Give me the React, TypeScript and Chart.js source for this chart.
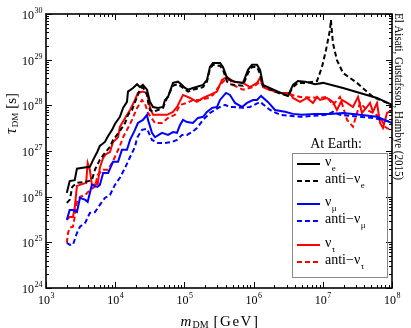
import React, { useEffect, useRef } from "react";
import { Chart, registerables } from "chart.js";

Chart.register(...registerables);

// ---- data (m_DM in GeV, tau_DM in s) ----
const massNuE = [2.0e3, 2.2e3, 2.6e3, 2.8e3, 3.4e3, 4.3e3, 4.8e3, 5.5e3, 6.0e3, 7.1e3, 7.9e3, 9.0e3, 9.9e3, 1.17e4, 1.30e4, 1.48e4, 1.53e4, 1.81e4, 2.07e4, 2.28e4, 2.52e4, 2.88e4, 3.18e4, 3.52e4, 4.15e4, 4.91e4, 5.24e4, 5.8e4, 6.84e4, 8.09e4, 9.23e4, 1.02e5, 1.13e5, 1.33e5, 1.86e5, 2.12e5, 2.34e5, 2.59e5, 3.27e5, 3.61e5, 4.13e5, 4.56e5, 5.39e5, 7.03e5, 8.30e5, 9.48e5, 1.12e6, 1.24e6, 1.37e6, 1.61e6, 2.25e6, 3.14e6, 3.71e6, 4.38e6, 5.53e6, 7.72e6, 1.01e7, 1.96e7, 3.45e7, 6.07e7, 1e8];
const tauNuE = [1.21e26, 2.2e26, 2.3e26, 4.1e26, 4.3e26, 4.5e26, 6.4e26, 9.5e26, 1.29e27, 1.58e27, 2.14e27, 2.9e27, 3.9e27, 5.6e27, 8.8e27, 1.19e28, 2.0e28, 2.4e28, 2.9e28, 2.5e28, 2.8e28, 2.2e28, 1.19e28, 9.2e27, 8.8e27, 9.2e27, 1.31e28, 1.53e28, 3.1e28, 3.3e28, 2.8e28, 2.4e28, 2.2e28, 2.4e28, 2.8e28, 3.6e28, 6.9e28, 8.5e28, 8.5e28, 6.9e28, 4.0e28, 3.6e28, 3.3e28, 3.1e28, 6.0e28, 7.7e28, 7.7e28, 6.0e28, 2.8e28, 2.5e28, 2.0e28, 1.61e28, 2.8e28, 3.4e28, 3.3e28, 2.9e28, 3.1e28, 2.4e28, 1.87e28, 1.45e28, 1.02e28];

const massAntiNuE = [2.0e3, 2.2e3, 2.4e3, 2.8e3, 3.7e3, 4.6e3, 5.1e3, 6.0e3, 7.1e3, 8.4e3, 9.3e3, 1.06e4, 1.25e4, 1.39e4, 1.53e4, 1.75e4, 2.07e4, 2.28e4, 2.52e4, 2.88e4, 2.98e4, 3.18e4, 3.52e4, 4.15e4, 4.91e4, 5.61e4, 6.84e4, 8.09e4, 9.23e4, 1.13e5, 1.33e5, 1.86e5, 2.12e5, 2.34e5, 2.59e5, 3.27e5, 3.61e5, 4.13e5, 4.56e5, 5.39e5, 7.03e5, 8.30e5, 9.48e5, 1.12e6, 1.24e6, 1.37e6, 1.61e6, 2.25e6, 3.14e6, 3.71e6, 4.38e6, 5.53e6, 8.25e6, 9.73e6, 1.11e7, 1.27e7, 1.31e7, 1.40e7, 1.60e7, 1.96e7, 3.12e7, 5.31e7, 8.47e7, 1e8];
const tauAntiNuE = [7.3e25, 8.5e25, 1.64e26, 2.0e26, 2.1e26, 2.3e26, 3.9e26, 6.4e26, 9.1e26, 1.23e27, 1.75e27, 2.25e27, 3.2e27, 4.1e27, 6.2e27, 7.9e27, 1.53e28, 2.2e28, 2.5e28, 1.69e28, 1.19e28, 7.9e27, 7.2e27, 7.9e27, 8.8e27, 1.45e28, 2.7e28, 2.9e28, 2.5e28, 2.0e28, 2.2e28, 2.5e28, 3.3e28, 6.3e28, 7.7e28, 7.3e28, 6.0e28, 3.3e28, 2.9e28, 2.8e28, 2.7e28, 5.1e28, 6.9e28, 6.9e28, 4.9e28, 2.7e28, 2.4e28, 1.87e28, 1.61e28, 2.5e28, 3.1e28, 3.1e28, 3.4e28, 6.9e28, 1.6e29, 4.5e29, 7.4e29, 2.3e29, 9.8e28, 5.1e28, 3.1e28, 1.53e28, 1.13e28, 8.8e27];

const massNuMu = [2.0e3, 2.2e3, 2.45e3, 2.8e3, 3.1e3, 3.7e3, 4.0e3, 4.6e3, 5.5e3, 6.0e3, 6.7e3, 7.9e3, 9.3e3, 1.10e4, 1.25e4, 1.48e4, 1.64e4, 1.93e4, 2.13e4, 2.52e4, 2.88e4, 2.98e4, 3.40e4, 3.76e4, 4.74e4, 5.80e4, 6.84e4, 7.82e4, 8.64e4, 9.55e4, 1.09e5, 1.33e5, 1.57e5, 1.86e5, 2.12e5, 2.51e5, 2.96e5, 3.27e5, 3.99e5, 4.56e5, 5.39e5, 6.80e5, 8.03e5, 9.80e5, 1.12e6, 1.28e6, 1.61e6, 2.04e6, 2.84e6, 3.71e6, 5.01e6, 7.72e6, 1.27e7, 1.96e7, 3.45e7, 6.07e7, 1e8];
const tauNuMu = [3.1e25, 5.1e25, 5.1e25, 4.6e25, 9.4e25, 8.5e25, 7.7e25, 1.81e26, 1.64e26, 1.81e26, 3.3e26, 3.3e26, 5.8e26, 5.8e26, 1.06e27, 1.06e27, 1.75e27, 2.9e27, 4.1e27, 4.8e27, 6.2e27, 4.8e27, 2.5e27, 2.0e27, 2.5e27, 2.25e27, 2.6e27, 2.5e27, 3.7e27, 4.8e27, 4.3e27, 4.1e27, 5.3e27, 5.6e27, 7.2e27, 8.8e27, 9.2e27, 1.31e28, 1.87e28, 1.69e28, 1.13e28, 9.2e27, 1.13e28, 1.31e28, 1.31e28, 1.61e28, 1.19e28, 7.9e27, 7.2e27, 6.5e27, 6.2e27, 6.5e27, 6.5e27, 6.8e27, 6.2e27, 5.6e27, 4.1e27];

const massAntiNuMu = [2.0e3, 2.2e3, 2.45e3, 2.8e3, 3.1e3, 3.7e3, 4.3e3, 5.1e3, 6.0e3, 7.1e3, 8.4e3, 9.9e3, 1.17e4, 1.39e4, 1.64e4, 1.93e4, 2.07e4, 2.44e4, 2.88e4, 3.40e4, 4.15e4, 5.24e4, 6.62e4, 7.82e4, 9.23e4, 1.09e5, 1.29e5, 1.52e5, 1.86e5, 2.34e5, 2.77e5, 3.27e5, 3.86e5, 4.56e5, 5.04e5, 7.03e5, 8.87e5, 1.24e6, 1.73e6, 2.41e6, 4.69e6, 1.15e7, 1.40e7, 1.77e7, 3.45e7, 5.31e7, 1e8];
const tauAntiNuMu = [9.8e24, 8.8e24, 8.8e24, 1.6e25, 2.2e25, 2.7e25, 4.4e25, 4.6e25, 6.6e25, 9.4e25, 1.09e26, 1.81e26, 2.6e26, 4.3e26, 7.4e26, 1.23e27, 1.94e27, 2.9e27, 3.05e27, 1.75e27, 1.50e27, 1.50e27, 1.58e27, 1.75e27, 2.25e27, 2.25e27, 2.6e27, 3.2e27, 4.8e27, 6.8e27, 7.9e27, 9.2e27, 1.02e28, 9.2e27, 9.2e27, 8.8e27, 9.2e27, 1.19e28, 7.9e27, 6.2e27, 5.6e27, 6.2e27, 7.2e27, 6.2e27, 5.6e27, 5.3e27, 4.3e27];

const massNuTau = [2.0e3, 2.2e3, 2.45e3, 2.6e3, 2.8e3, 3.4e3, 3.8e3, 4.0e3, 4.3e3, 4.6e3, 5.6e3, 6.0e3, 6.7e3, 7.4e3, 8.4e3, 9.3e3, 1.10e4, 1.17e4, 1.39e4, 1.64e4, 1.93e4, 2.13e4, 2.52e4, 2.88e4, 3.18e4, 3.52e4, 4.44e4, 5.61e4, 6.84e4, 7.82e4, 9.55e4, 1.21e5, 1.52e5, 1.86e5, 2.34e5, 2.96e5, 3.49e5, 4.13e5, 5.04e5, 7.03e5, 8.87e5, 1.12e6, 1.24e6, 1.37e6, 1.73e6, 2.41e6, 3.36e6, 3.71e6, 4.69e6, 5.91e6, 7.22e6, 8.25e6, 9.11e6, 1.15e7, 1.40e7, 1.60e7, 1.89e7, 2.24e7, 2.73e7, 3.23e7, 3.68e7, 4.35e7, 4.81e7, 5.31e7, 6.07e7, 6.71e7, 7.41e7, 8.47e7, 1e8];
const tauNuTau = [3.1e25, 3.6e25, 3.6e25, 5.7e25, 1.72e26, 1.91e26, 2.0e26, 5.5e26, 3.9e26, 1.81e26, 1.91e26, 4.3e26, 7.1e26, 8.6e26, 9.5e26, 1.58e27, 2.0e27, 3.4e27, 5.3e27, 7.9e27, 1.31e28, 1.87e28, 2.0e28, 1.87e28, 9.2e27, 6.2e27, 6.2e27, 6.2e27, 7.2e27, 9.2e27, 1.69e28, 1.45e28, 1.19e28, 1.45e28, 1.69e28, 2.0e28, 3.6e28, 4.2e28, 3.3e28, 3.1e28, 2.5e28, 3.1e28, 4.0e28, 2.5e28, 2.2e28, 1.87e28, 1.87e28, 1.45e28, 1.19e28, 1.45e28, 1.13e28, 1.53e28, 1.31e28, 1.45e28, 1.19e28, 7.9e27, 1.31e28, 1.13e28, 9.2e27, 1.53e28, 6.8e27, 9.2e27, 1.13e28, 7.2e27, 1.13e28, 4.1e27, 3.2e27, 6.8e27, 7.9e27];

const massAntiNuTau = [2.0e3, 2.08e3, 2.2e3, 2.45e3, 2.6e3, 2.8e3, 3.1e3, 3.7e3, 4.3e3, 5.1e3, 5.6e3, 6.7e3, 7.9e3, 9.0e3, 9.9e3, 1.17e4, 1.30e4, 1.53e4, 1.75e4, 2.07e4, 2.44e4, 2.70e4, 2.98e4, 3.76e4, 4.74e4, 5.80e4, 7.31e4, 8.64e4, 1.09e5, 1.33e5, 1.68e5, 2.19e5, 2.59e5, 3.27e5, 3.86e5, 4.56e5, 5.04e5, 7.03e5, 9.80e5, 1.24e6, 1.46e6, 1.91e6, 2.66e6, 4.69e6, 9.11e6, 1.15e7, 1.40e7, 1.77e7, 2.24e7, 2.73e7, 3.12e7, 3.45e7, 4.35e7, 5.31e7, 6.71e7, 7.92e7, 9.36e7];
const tauAntiNuTau = [9.8e24, 1.6e25, 2.1e25, 2.2e25, 3.6e25, 7.7e25, 9.9e25, 1.09e26, 1.41e26, 1.64e26, 3.0e26, 3.9e26, 3.9e26, 5.5e26, 7.4e26, 1.29e27, 2.0e27, 3.2e27, 4.8e27, 8.8e27, 1.31e28, 1.07e28, 6.8e27, 4.1e27, 4.1e27, 5.3e27, 6.2e27, 1.02e28, 1.13e28, 1.31e28, 1.31e28, 1.45e28, 1.69e28, 2.8e28, 3.6e28, 3.6e28, 2.8e28, 2.2e28, 2.5e28, 3.3e28, 2.4e28, 2.0e28, 1.87e28, 1.53e28, 1.45e28, 1.53e28, 1.02e28, 1.53e28, 4.8e27, 3.4e27, 6.8e27, 1.13e28, 7.9e27, 6.8e27, 5.6e27, 3.4e27, 2.9e27];

const seriesMain = ["ν", "anti−ν", "ν", "anti−ν", "ν", "anti−ν"];
const seriesSub = ["e", "e", "μ", "μ", "τ", "τ"];
const seriesColors = ["#000000", "#000000", "#0000ff", "#0000ff", "#ff0000", "#ff0000"];
const seriesDashed = [false, true, false, true, false, true];
const seriesMass = [massNuE, massAntiNuE, massNuMu, massAntiNuMu, massNuTau, massAntiNuTau];
const seriesTau = [tauNuE, tauAntiNuE, tauNuMu, tauAntiNuMu, tauNuTau, tauAntiNuTau];

const xExponents = [3, 4, 5, 6, 7, 8];
const yExponents = [24, 25, 26, 27, 28, 29, 30];
const legendTitle = "At Earth:";
const creditText = "El Aisati, Gustafsson, Hambye (2015)";

const SERIF = '"Liberation Serif", "Times New Roman", serif';
const DASH = [5, 3];

function drawPow(ctx: CanvasRenderingContext2D, exp: string, x: number, baseY: number, align: "center" | "right") {
  ctx.font = `12px ${SERIF}`;
  const w1 = ctx.measureText("10").width;
  ctx.font = `8px ${SERIF}`;
  const w2 = ctx.measureText(exp).width;
  const left = align === "center" ? x - (w1 + w2) / 2 : x - w1 - w2;
  ctx.textAlign = "left";
  ctx.textBaseline = "alphabetic";
  ctx.font = `12px ${SERIF}`;
  ctx.fillText("10", left, baseY);
  ctx.font = `8px ${SERIF}`;
  ctx.fillText(exp, left + w1 + 0.5, baseY - 6);
}

const decorPlugin = {
  id: "decor",
  afterDatasetsDraw(chart: any) {
    const { ctx, chartArea: a, scales } = chart;
    const xs = scales.x;
    const ys = scales.y;
    ctx.save();
    ctx.strokeStyle = "#000";
    ctx.fillStyle = "#000";
    ctx.lineWidth = 1;
    ctx.setLineDash([]);
    const seg = (x1: number, y1: number, x2: number, y2: number) => {
      ctx.beginPath();
      ctx.moveTo(x1, y1);
      ctx.lineTo(x2, y2);
      ctx.stroke();
    };
    // x ticks (inward, bottom and top)
    for (const e of xExponents) {
      for (let k = 1; k <= 9; k++) {
        const v = k * Math.pow(10, e);
        if (v > xs.max * 1.0001) break;
        const px = Math.round(xs.getPixelForValue(v)) + 0.5;
        const len = k === 1 ? 6 : 3;
        seg(px, a.bottom, px, a.bottom - len);
        seg(px, a.top, px, a.top + len);
      }
    }
    for (const e of yExponents) {
      for (let k = 1; k <= 9; k++) {
        const v = k * Math.pow(10, e);
        if (v > ys.max * 1.0001) break;
        const py = Math.round(ys.getPixelForValue(v)) + 0.5;
        const len = k === 1 ? 6 : 3;
        seg(a.left, py, a.left + len, py);
        seg(a.right, py, a.right - len, py);
      }
    }
    ctx.lineWidth = 1.6;
    ctx.strokeRect(a.left, a.top, a.right - a.left, a.bottom - a.top);

    // tick labels
    for (const e of xExponents) {
      const px = xs.getPixelForValue(Math.pow(10, e));
      drawPow(ctx, String(e), px, a.bottom + 16, "center");
    }
    for (const e of yExponents) {
      const py = ys.getPixelForValue(Math.pow(10, e));
      drawPow(ctx, String(e), a.left - 4, py + 5, "right");
    }

    // x title: m_DM [GeV]
    {
      const baseY = 326;
      ctx.textAlign = "left";
      ctx.font = `italic 15px ${SERIF}`;
      const wm = ctx.measureText("m").width;
      ctx.font = `10px ${SERIF}`;
      const wd = ctx.measureText("DM").width;
      ctx.font = `15px ${SERIF}`;
      (ctx as any).letterSpacing = "1.5px";
      const wg = ctx.measureText("[GeV]").width;
      (ctx as any).letterSpacing = "0px";
      const gap = 5;
      const total = wm + 1 + wd + gap + wg;
      let x = (a.left + a.right) / 2 - total / 2 + 1;
      ctx.font = `italic 15px ${SERIF}`;
      ctx.fillText("m", x, baseY);
      x += wm + 1;
      ctx.font = `10px ${SERIF}`;
      ctx.fillText("DM", x, baseY + 2);
      x += wd + gap;
      ctx.font = `15px ${SERIF}`;
      (ctx as any).letterSpacing = "1.5px";
      ctx.fillText("[GeV]", x, baseY);
      (ctx as any).letterSpacing = "0px";
    }

    // y title: tau_DM [s]
    {
      ctx.save();
      ctx.translate(16, 134);
      ctx.rotate(-Math.PI / 2);
      ctx.textAlign = "left";
      ctx.font = `italic 16px ${SERIF}`;
      const wt = ctx.measureText("τ").width;
      ctx.fillText("τ", 0, 0);
      ctx.font = `9px ${SERIF}`;
      const wd = ctx.measureText("DM").width;
      ctx.fillText("DM", wt + 1, 2);
      ctx.font = `15px ${SERIF}`;
      ctx.fillText("[s]", wt + 1 + wd + 4, 0);
      ctx.restore();
    }

    // credit text (vertical, right side)
    {
      ctx.save();
      ctx.translate(395, 13);
      ctx.rotate(Math.PI / 2);
      ctx.font = `12px ${SERIF}`;
      ctx.textAlign = "left";
      const w = ctx.measureText(creditText).width;
      ctx.scale(167 / w, 1);
      ctx.fillText(creditText, 0, 0);
      ctx.restore();
    }

    // legend
    {
      ctx.font = `14px ${SERIF}`;
      ctx.textAlign = "center";
      ctx.fillText(legendTitle, 336, 148);
      ctx.lineWidth = 1;
      ctx.strokeStyle = "#888888";
      ctx.strokeRect(292.5, 153.5, 95, 124);
      const rows = [164, 181, 204, 221, 245, 262];
      chart.data.datasets.forEach((ds: any, i: number) => {
        const y = rows[i];
        ctx.strokeStyle = ds.borderColor;
        ctx.lineWidth = 2;
        ctx.setLineDash(seriesDashed[i] ? DASH : []);
        seg(297, y, 320, y);
        ctx.setLineDash([]);
        ctx.fillStyle = "#000";
        ctx.textAlign = "left";
        ctx.font = `14px ${SERIF}`;
        const main = seriesMain[i];
        const wmain = ctx.measureText(main).width;
        ctx.fillText(main, 325, y + 2);
        ctx.font = `9px ${SERIF}`;
        ctx.fillText(seriesSub[i], 325 + wmain + 0.5, y + 7);
      });
    }
    ctx.restore();
  },
};

export default function App() {
  const ref = useRef<HTMLCanvasElement>(null);
  useEffect(() => {
    if (!ref.current) return;
    const datasets = seriesMass.map((ms, i) => ({
      label: seriesMain[i] + seriesSub[i],
      data: ms.map((m, j) => ({ x: m, y: seriesTau[i][j] })),
      borderColor: seriesColors[i],
      backgroundColor: seriesColors[i],
      borderWidth: 2,
      borderDash: seriesDashed[i] ? DASH : [],
      pointRadius: 0,
      fill: false,
      tension: 0,
    }));
    const chart = new Chart(ref.current, {
      type: "line",
      data: { datasets },
      options: {
        animation: false,
        responsive: false,
        devicePixelRatio: 1,
        parsing: true,
        layout: { padding: { left: 0, right: 19, top: 14, bottom: 0 } },
        plugins: { legend: { display: false }, tooltip: { enabled: false } },
        scales: {
          x: {
            type: "logarithmic",
            min: 1e3,
            max: 1e8,
            grid: { display: false },
            border: { display: false },
            ticks: { display: false },
            afterFit: (s: any) => {
              s.height = 40;
            },
          },
          y: {
            type: "logarithmic",
            min: 1e24,
            max: 1e30,
            grid: { display: false },
            border: { display: false },
            ticks: { display: false },
            afterFit: (s: any) => {
              s.width = 46;
            },
          },
        },
      },
      plugins: [decorPlugin],
    } as any);
    return () => chart.destroy();
  }, []);
  return (
    <div style={{ position: "absolute", left: 0, top: 0, width: 411, height: 328, background: "#fff" }}>
      <canvas ref={ref} width={411} height={328} style={{ display: "block", width: 411, height: 328 }} />
    </div>
  );
}
